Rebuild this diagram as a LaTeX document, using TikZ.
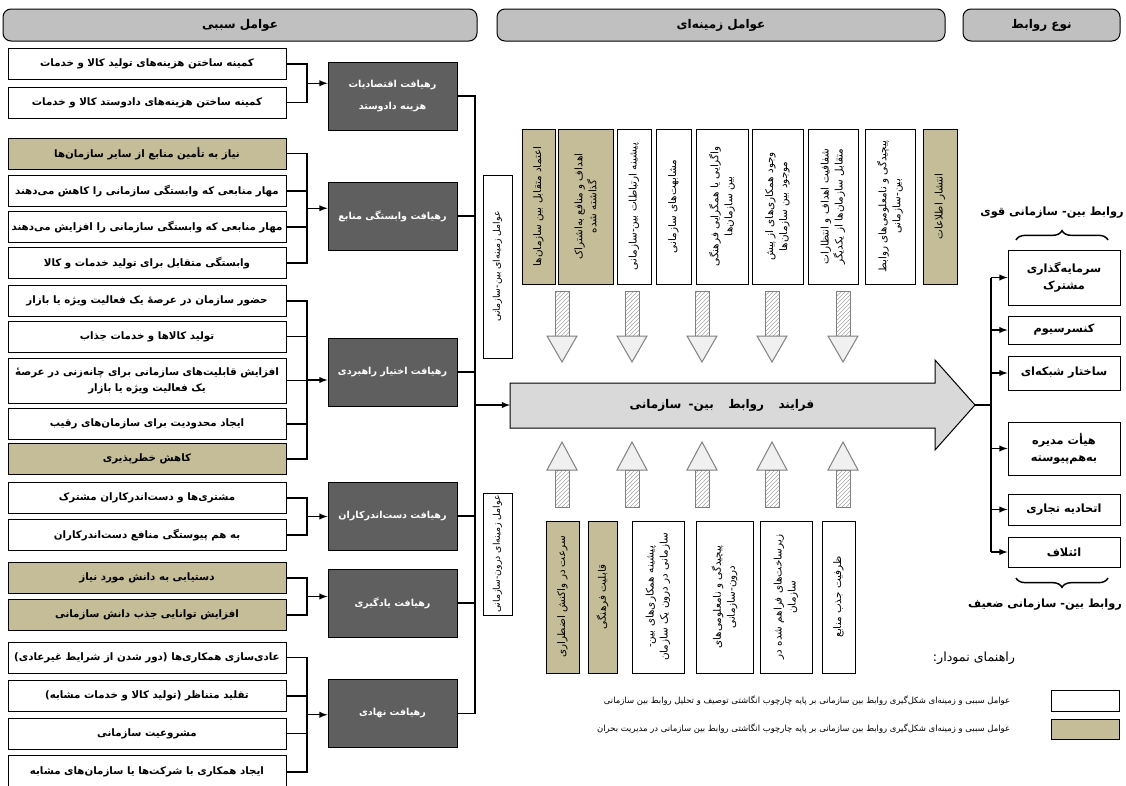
\documentclass[tikz,border=0pt]{standalone}
\usepackage{fontspec}
\setmainfont[Script=Arabic]{DejaVu Sans}
\TeXXeTstate=1
\usetikzlibrary{calc,patterns,decorations.pathreplacing}

\newcommand{\fa}[1]{\beginR #1\endR}

\definecolor{tanfill}{RGB}{196,189,151}
\definecolor{darkfill}{RGB}{95,95,95}
\definecolor{headfill}{RGB}{192,192,192}
\definecolor{procfill}{RGB}{217,217,217}

\tikzset{every picture/.style={line width=0.75pt}}
\tikzset{
  cause/.style={draw, fill=white, inner sep=0pt, minimum width=208.5pt, minimum height=23.25pt, align=center, font=\bfseries\fontsize{7.7}{12}\selectfont},
  causetan/.style={cause, fill=tanfill},
  approach/.style={draw, fill=darkfill, text=white, inner sep=0pt, minimum width=96.75pt, minimum height=51pt, align=center, font=\bfseries\fontsize{7.2}{16}\selectfont},
  header/.style={draw, fill=headfill, rounded corners=6pt, inner sep=0pt, minimum height=24pt, font=\bfseries\fontsize{9}{11}\selectfont},
  ctx/.style={draw, fill=white, rotate=90, inner sep=0pt, align=center, font=\fontsize{7.8}{10.5}\selectfont},
  ctxtan/.style={ctx, fill=tanfill},
  inner/.style={ctx, minimum height=21.75pt, font=\fontsize{7}{10}\selectfont},
  rel/.style={draw, fill=white, inner sep=0pt, minimum width=84pt, align=center, font=\bfseries\fontsize{8.5}{13}\selectfont},
  link/.style={line width=1.1pt},
  hatch/.style={draw=gray, pattern=north east lines, pattern color=gray!70},
  tipbox/.style={draw=gray, fill=gray!12},
  legtext/.style={anchor=east, font=\fontsize{6.35}{8}\selectfont},
}

\begin{document}
\begin{tikzpicture}[x=0.75pt,y=0.75pt,yscale=-1,xscale=1]
\useasboundingbox (0,0) rectangle (1126,785);

% Headers
\node[header, minimum width=355.5pt] (hcause) at (240,25) {\fa{عوامل سببی}};
\node[header, minimum width=336pt] (hctx) at (721,25) {\fa{عوامل زمینه‌ای}};
\node[header, minimum width=117.75pt] (hrel) at (1041.5,25) {\fa{نوع روابط}};

% Text Node
\node[cause] (c11) at (147,64) {\fa{کمینه ساختن هزینه‌های تولید کالا و خدمات}};
\node[cause] (c12) at (147,102.5) {\fa{کمینه ساختن هزینه‌های دادوستد کالا و خدمات}};
\node[causetan] (c21) at (147,153.5) {\fa{نیاز به تأمین منابع از سایر سازمان‌ها}};
\node[cause] (c22) at (147,191) {\fa{مهار منابعی که وابستگی سازمانی را کاهش می‌دهند}};
\node[cause] (c23) at (147,227) {\fa{مهار منابعی که وابستگی سازمانی را افزایش می‌دهند}};
\node[cause] (c24) at (147,263) {\fa{وابستگی متقابل برای تولید خدمات و کالا}};
\node[cause] (c31) at (147,301) {\fa{حضور سازمان در عرصهٔ یک فعالیت ویژه یا بازار}};
\node[cause] (c32) at (147,336.5) {\fa{تولید کالاها و خدمات جذاب}};
\node[cause, minimum height=33.75pt] (c33) at (147,380.5) {\fa{افزایش قابلیت‌های سازمانی برای چانه‌زنی در عرصهٔ}\\\fa{یک فعالیت ویژه یا بازار}};
\node[cause] (c34) at (147,424) {\fa{ایجاد محدودیت برای سازمان‌های رقیب}};
\node[causetan] (c35) at (147,459) {\fa{کاهش خطرپذیری}};
\node[cause] (c41) at (147,498) {\fa{مشتری‌ها و دست‌اندرکاران مشترک}};
\node[cause] (c42) at (147,535) {\fa{به هم پیوستگی منافع دست‌اندرکاران}};
\node[causetan] (c51) at (147,578) {\fa{دستیابی به دانش مورد نیاز}};
\node[causetan] (c52) at (147,615) {\fa{افزایش توانایی جذب دانش سازمانی}};
\node[cause] (c61) at (147,657.5) {\fa{عادی‌سازی همکاری‌ها (دور شدن از شرایط غیرعادی)}};
\node[cause] (c62) at (147,696) {\fa{تقلید متناظر (تولید کالا و خدمات مشابه)}};
\node[cause] (c63) at (147,733.5) {\fa{مشروعیت سازمانی}};
\node[cause, minimum height=25pt] (c64) at (147,772) {\fa{ایجاد همکاری با شرکت‌ها یا سازمان‌های مشابه}};

% Approaches
\node[approach] (d1) at (392.5,96) {\fa{رهیافت اقتصادیات}\\\fa{هزینه دادوستد}};
\node[approach] (d2) at (392.5,216) {\fa{رهیافت وابستگی منابع}};
\node[approach] (d3) at (392.5,372) {\fa{رهیافت اختیار راهبردی}};
\node[approach] (d4) at (392.5,516) {\fa{رهیافت دست‌اندرکاران}};
\node[approach] (d5) at (392.5,603) {\fa{رهیافت یادگیری}};
\node[approach] (d6) at (392.5,713.5) {\fa{رهیافت نهادی}};

\coordinate (lbus) at (307,0);
\coordinate (mbus) at (475,0);

%Straight Lines
\draw[link] (c11.east) -| (lbus |- c12.east) -- (c12.east);
\coordinate (m1) at ($(c11.east)!.5!(c12.east)$);
\draw[link,-latex] (m1 -| lbus) -- (m1 -| d1.west);

\draw[link] (c21.east) -| (lbus |- c24.east) -- (c24.east);
\foreach \c in {c22,c23} \draw[link] (\c.east) -- (\c.east -| lbus);
\coordinate (m2) at ($(c21.east)!.5!(c24.east)$);
\draw[link,-latex] (m2 -| lbus) -- (m2 -| d2.west);

\draw[link] (c31.east) -| (lbus |- c35.east) -- (c35.east);
\foreach \c in {c32,c33,c34} \draw[link] (\c.east) -- (\c.east -| lbus);
\coordinate (m3) at ($(c31.east)!.5!(c35.east)$);
\draw[link,-latex] (m3 -| lbus) -- (m3 -| d3.west);

\draw[link] (c41.east) -| (lbus |- c42.east) -- (c42.east);
\coordinate (m4) at ($(c41.east)!.5!(c42.east)$);
\draw[link,-latex] (m4 -| lbus) -- (m4 -| d4.west);

\draw[link] (c51.east) -| (lbus |- c52.east) -- (c52.east);
\coordinate (m5) at ($(c51.east)!.5!(c52.east)$);
\draw[link,-latex] (m5 -| lbus) -- (m5 -| d5.west);

\draw[link] (c61.east) -| (lbus |- c64.east) -- (c64.east);
\foreach \c in {c62,c63} \draw[link] (\c.east) -- (\c.east -| lbus);
\coordinate (m6) at ($(c61.east)!.5!(c64.east)$);
\draw[link,-latex] (m6 -| lbus) -- (m6 -| d6.west);

% main bus
\draw[link] (d1.east) -| (mbus |- d6.east) -- (d6.east);
\foreach \d in {d2,d3,d4,d5} \draw[link] (\d.east) -- (\d.east -| mbus);

% Process arrow
\coordinate (proctail) at (510,405);
\coordinate (proctip) at (975,405);
\draw[fill=procfill] (proctail |- 0,383) -- (935,383) -- (935,360) -- (proctip) -- (935,450) -- (935,428) -- (proctail |- 0,428) -- cycle;
\node[font=\bfseries\fontsize{9}{11}\selectfont] (proc) at (722,405) {\fa{فرایند\hspace{1.2em}روابط\hspace{1.2em}بین-\hspace{0.6em}سازمانی}};
\draw[link,-latex] (mbus |- proctail) -- (proctail);

% Context boxes
\node[inner, minimum width=137.25pt] (n1) at (497.5,266.5) {\fa{عوامل زمینه‌ای بین-سازمانی}};
\node[inner, minimum width=91.5pt] (n2) at (497.5,554) {\fa{عوامل زمینه‌ای درون-سازمانی}};

\node[ctxtan, minimum width=116.25pt, minimum height=24.75pt] (t1) at (538.5,206.5) {\fa{اعتماد متقابل بین سازمان‌ها}};
\node[ctxtan, minimum width=116.25pt, minimum height=41.25pt] (t2) at (585.5,206.5) {\fa{اهداف و منافع به‌اشتراک}\\\fa{گذاشته شده}};
\node[ctx, minimum width=116.25pt, minimum height=25.5pt] (t3) at (634,206.5) {\fa{پیشینه ارتباطات بین-سازمانی}};
\node[ctx, minimum width=116.25pt, minimum height=26.25pt] (t4) at (673.5,206.5) {\fa{مشابهت‌های سازمانی}};
\node[ctx, minimum width=116.25pt, minimum height=39pt] (t5) at (722,206.5) {\fa{واگرایی یا همگرایی فرهنگی}\\\fa{بین سازمان‌ها}};
\node[ctx, minimum width=116.25pt, minimum height=38.25pt] (t6) at (777.5,206.5) {\fa{وجود همکاری‌های از پیش}\\\fa{موجود بین سازمان‌ها}};
\node[ctx, minimum width=116.25pt, minimum height=37.5pt] (t7) at (833,206.5) {\fa{شفافیت اهداف و انتظارات}\\\fa{متقابل سازمان‌ها از یکدیگر}};
\node[ctx, minimum width=116.25pt, minimum height=37.5pt] (t8) at (890,206.5) {\fa{پیچیدگی و نامعلومی‌های روابط}\\\fa{بین-سازمانی}};
\node[ctxtan, minimum width=116.25pt, minimum height=25.5pt] (t9) at (940,206.5) {\fa{انتشار اطلاعات}};

\node[ctxtan, minimum width=114pt, minimum height=24.75pt] (b1) at (562.5,597) {\fa{سرعت در واکنش اضطراری}};
\node[ctxtan, minimum width=114pt, minimum height=21.75pt] (b2) at (602.5,597) {\fa{قابلیت فرهنگی}};
\node[ctx, minimum width=114pt, minimum height=39pt] (b3) at (658,597) {\fa{پیشینه همکاری‌های بین-}\\\fa{سازمانی در درون یک سازمان}};
\node[ctx, minimum width=114pt, minimum height=42.75pt] (b4) at (724.5,597) {\fa{پیچیدگی و نامعلومی‌های}\\\fa{درون-سازمانی}};
\node[ctx, minimum width=114pt, minimum height=39pt] (b5) at (786,597) {\fa{زیرساخت‌های فراهم شده در}\\\fa{سازمان}};
\node[ctx, minimum width=114pt, minimum height=24.75pt] (b6) at (838.5,597) {\fa{ظرفیت جذب منابع}};

% hatched arrows
\foreach \x in {562,632,702,772,843} {
  \filldraw[hatch] (\x-7,291) rectangle (\x+7,336);
  \draw[tipbox] (\x-15,336) -- (\x+15,336) -- (\x,362) -- cycle;
  \filldraw[hatch] (\x-7,470) rectangle (\x+7,507);
  \draw[tipbox] (\x-15,470) -- (\x+15,470) -- (\x,442) -- cycle;
}

% Relation types
\node[rel, minimum height=41.25pt] (r1) at (1064,277.5) {\fa{سرمایه‌گذاری}\\\fa{مشترک}};
\node[rel, minimum height=21pt] (r2) at (1064,330) {\fa{کنسرسیوم}};
\node[rel, minimum height=25.5pt] (r3) at (1064,373) {\fa{ساختار شبکه‌ای}};
\node[rel, minimum height=39.75pt] (r4) at (1064,448.5) {\fa{هیأت مدیره}\\\fa{به‌هم‌پیوسته}};
\node[rel, minimum height=23.25pt] (r5) at (1064,509.5) {\fa{اتحادیه تجاری}};
\node[rel, minimum height=22.5pt] (r6) at (1064,552) {\fa{ائتلاف}};

\coordinate (rbus) at (991,0);
\draw[link] (proctip) -- (proctip -| rbus);
\draw[link] (rbus |- r1.west) -- (rbus |- r6.west);
\foreach \r in {r1,r2,r3,r4,r5,r6} \draw[link,-latex] (rbus |- \r.west) -- (\r.west);

\node[font=\bfseries\fontsize{8.5}{11}\selectfont] (strong) at (1052,213) {\fa{روابط بین- سازمانی قوی}};
\draw[link, decorate, decoration={brace, amplitude=7pt}] (1016,240) -- (1108,240);
\node[font=\bfseries\fontsize{8.5}{11}\selectfont] (weak) at (1045,605) {\fa{روابط بین- سازمانی ضعیف}};
\draw[link, decorate, decoration={brace, amplitude=7pt}] (1108,578) -- (1016,578);

% Legend
\node[anchor=east, font=\fontsize{9.5}{11}\selectfont] (legtitle) at (1020,658) {\fa{راهنمای نمودار:}};
\draw[fill=white] (1051,690) rectangle (1119,711);
\draw[fill=tanfill] (1051,719) rectangle (1119,739);
\node[legtext] (leg1) at (1015,701) {\fa{عوامل سببی و زمینه‌ای شکل‌گیری روابط بین سازمانی بر پایه چارچوب انگاشتی توصیف و تحلیل روابط بین سازمانی}};
\node[legtext] (leg2) at (1015,729) {\fa{عوامل سببی و زمینه‌ای شکل‌گیری روابط بین سازمانی بر پایه چارچوب انگاشتی روابط بین سازمانی در مدیریت بحران}};

\end{tikzpicture}
\end{document}
